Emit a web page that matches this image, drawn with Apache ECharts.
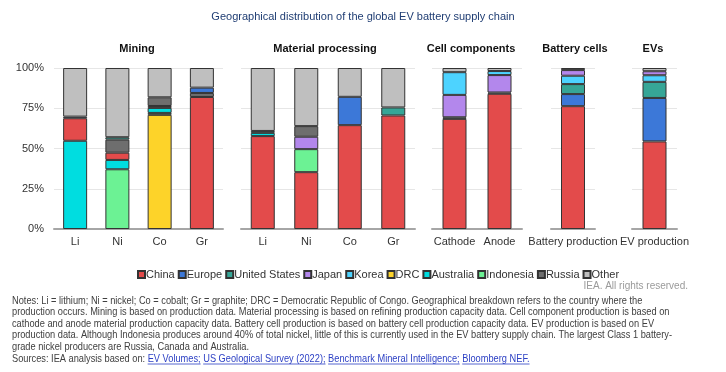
<!DOCTYPE html>
<html><head><meta charset="utf-8">
<script src="https://cdn.jsdelivr.net/npm/echarts@6/dist/echarts.min.js"></script>
<style>html,body{margin:0;padding:0;background:#fff}#c{width:726px;height:372px}</style>
</head><body><div id="c"></div>
<script>
// ---- categories per panel ----
const miningCats = ['Li', 'Ni', 'Co', 'Gr'];
const processingCats = ['Li', 'Ni', 'Co', 'Gr'];
const componentCats = ['Cathode', 'Anode'];
const cellCats = ['Battery production'];
const evCats = ['EV production'];
const yTicks = [0, 25, 50, 75, 100];

// ---- shares (%) in order: Mining Li,Ni,Co,Gr | Processing Li,Ni,Co,Gr | Cathode, Anode | Battery | EV ----
const china     = [14,   4.5, 1.2, 82,   57.7, 35.3, 64.5, 70.5, 68.4, 84,   76.3, 54.4];
const europe    = [1,    0,   0,   3.3,  0,    0,    17.6, 0,    0,    0.8,  7.5,  27];
const unitedStates = [0, 1.5, 0,   0,    1.2,  0,    0,    5,    1,    0,    6.2,  10];
const japan     = [0,    0,   0,   0,    0,    7.7,  0,    0,    13.9, 10.8, 3.5,  2.5];
const korea     = [0,    0,   0,   0,    0,    0,    0,    0,    14.1, 2.5,  5.2,  4.1];
const drc       = [0,    0,   70.9,0,    0,    0,    0,    0,    0,    0,    0,    0];
const australia = [54.8, 5.8, 3.1, 0,    2,    0,    0,    0,    0,    0,    0,    0];
const indonesia = [0,    37.1,1.2, 0,    0,    14.3, 0,    0,    0,    0,    0,    0];
const russia    = [0,    8.1, 5.4, 2.5,  0,    6.6,  0,    0,    0,    0,    0,    0];
const other     = [30.2, 43,  18.2,12.2, 39.1, 36.1, 17.9, 24.5, 2.6,  1.9,  1.3,  2.0];

const regionNames = ['China','Europe','United States','Japan','Korea','DRC','Australia','Indonesia','Russia','Other'];
const regionData = {'China':china,'Europe':europe,'United States':unitedStates,'Japan':japan,'Korea':korea,'DRC':drc,'Australia':australia,'Indonesia':indonesia,'Russia':russia,'Other':other};
const regionColors = {'China':'#e34b4b','Europe':'#3c78d8','United States':'#36a697','Japan':'#b387ec','Korea':'#4dd3ff','DRC':'#fdd329','Australia':'#00dde0','Indonesia':'#6cf294','Russia':'#6e6e6e','Other':'#bfbfbf'};

const panels = [
  {title:'Mining', cats:miningCats, start:0, left:54, width:169, tx:137,
   order:['DRC','Indonesia','Australia','China','Russia','United States','Europe','Other']},
  {title:'Material processing', cats:processingCats, start:4, left:241, width:174, tx:325,
   order:['China','Indonesia','Australia','United States','Japan','Russia','Europe','Other']},
  {title:'Cell components', cats:componentCats, start:8, left:432, width:90, tx:471,
   order:['China','United States','Europe','Japan','Korea','Other']},
  {title:'Battery cells', cats:cellCats, start:10, left:551, width:44, tx:575,
   order:['China','Europe','United States','Korea','Japan','Other']},
  {title:'EVs', cats:evCats, start:11, left:632, width:45, tx:653,
   order:['China','Europe','United States','Korea','Japan','Other']}
];

const grids = [], xAxes = [], yAxes = [], series = [], graphics = [];
panels.forEach((p, i) => {
  grids.push({left:p.left, width:p.width, top:68, height:161});
  xAxes.push({type:'category', gridIndex:i, data:p.cats,
    axisLine:{lineStyle:{color:'#a6a6a6', width:2}}, axisTick:{show:false},
    axisLabel:{interval:0, color:'#333', fontSize:11, margin:7, fontFamily:'Liberation Sans'}});
  yAxes.push({type:'value', gridIndex:i, min:0, max:100, interval:25,
    axisLine:{show:false}, axisTick:{show:false},
    splitLine:{lineStyle:{color:'#e6e6e6', width:1}},
    axisLabel:{show:i === 0, formatter:'{value}%', color:'#333', fontSize:11, margin:10, fontFamily:'Liberation Sans'}});
  p.order.forEach(name => {
    const vals = regionData[name].slice(p.start, p.start + p.cats.length).map(v => v === 0 ? null : v);
    series.push({name:name, type:'bar', xAxisIndex:i, yAxisIndex:i, stack:'s' + i, barWidth:24,
      data:vals, itemStyle:{color:regionColors[name], borderColor:'#333', borderWidth:1},
      emphasis:{disabled:true}, animation:false});
  });
  graphics.push({type:'text', x:p.tx, y:49, style:{text:p.title, font:'bold 11px "Liberation Sans"', fill:'#111', align:'center', verticalAlign:'middle'}});
});

// ---- notes ----
const noteLines = [
  'Notes: Li = lithium; Ni = nickel; Co = cobalt; Gr = graphite; DRC = Democratic Republic of Congo. Geographical breakdown refers to the country where the',
  'production occurs. Mining is based on production data. Material processing is based on refining production capacity data. Cell component production is based on',
  'cathode and anode material production capacity data. Battery cell production is based on battery cell production capacity data. EV production is based on EV',
  'production data. Although Indonesia produces around 40% of total nickel, little of this is currently used in the EV battery supply chain. The largest Class 1 battery-',
  'grade nickel producers are Russia, Canada and Australia.'
];
const sourceParts = [
  {t:'Sources: IEA analysis based on: ', link:false},
  {t:'EV Volumes;', link:true}, {t:' ', link:false},
  {t:'US Geological Survey (2022);', link:true}, {t:' ', link:false},
  {t:'Benchmark Mineral Intelligence;', link:true}, {t:' ', link:false},
  {t:'Bloomberg NEF.', link:true}
];
const noteFont = '11px "Liberation Sans"';
const mctx = document.createElement('canvas').getContext('2d');
mctx.font = noteFont;
const sx = 660 / mctx.measureText(noteLines[3]).width;
const lineY0 = 300.5, lineH = 11.5;
noteLines.forEach((t, k) => {
  graphics.push({type:'text', x:12, y:lineY0 + k * lineH, scaleX:sx,
    style:{text:t, font:noteFont, fill:'#404040', verticalAlign:'middle'}});
});
let cx = 12;
const sy = lineY0 + 5 * lineH + 0.5;
sourceParts.forEach(part => {
  const w = mctx.measureText(part.t).width * sx;
  graphics.push({type:'text', x:cx, y:sy, scaleX:sx,
    style:{text:part.t, font:noteFont, fill:part.link ? '#2b3fc4' : '#404040', verticalAlign:'middle'}});
  if (part.link) {
    graphics.push({type:'line', shape:{x1:cx, y1:sy + 5.5, x2:cx + w, y2:sy + 5.5}, style:{stroke:'#2b3fc4', lineWidth:0.8}});
  }
  cx += w;
});
graphics.push({type:'text', x:688, y:286, style:{text:'IEA. All rights reserved.', font:'10px "Liberation Sans"', fill:'#9a9a9a', align:'right', verticalAlign:'middle'}});

const chart = echarts.init(document.getElementById('c'), null, {renderer:'canvas'});
chart.setOption({
  animation:false,
  backgroundColor:'#fff',
  title:{text:'Geographical distribution of the global EV battery supply chain', left:'center', top:6,
    textStyle:{fontSize:11, fontWeight:'normal', color:'#1f3d73', fontFamily:'Liberation Sans'}},
  legend:{data:regionNames, left:132, top:264, itemWidth:7, itemHeight:7, itemGap:3, icon:'rect',
    textStyle:{fontSize:11, color:'#333', fontFamily:'Liberation Sans', padding:[0,0,0,-4]}},
  grid:grids, xAxis:xAxes, yAxis:yAxes, series:series, graphic:graphics
});
</script></body></html>
